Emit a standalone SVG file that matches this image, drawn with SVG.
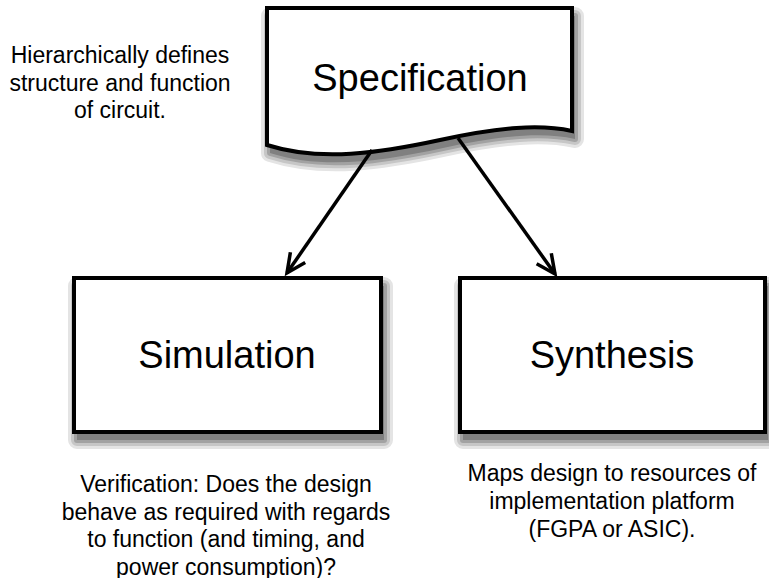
<svg xmlns="http://www.w3.org/2000/svg" width="769" height="578" viewBox="0 0 769 578">
  <style>
    .shape { fill: #ffffff; stroke: #000000; stroke-width: 4; stroke-linejoin: miter; }
    .title { font-family: "Liberation Sans", Arial, Helvetica, sans-serif; font-size: 38px; fill: #000000; text-anchor: middle; }
    .note { font-family: "Liberation Sans", Arial, Helvetica, sans-serif; font-size: 23px; fill: #000000; text-anchor: middle; }
    .conn { fill: none; stroke: #000000; stroke-width: 3.5; marker-end: url(#arrow); }
  </style>
  <defs>
    <marker id="arrow" markerUnits="userSpaceOnUse" viewBox="-22 -12 26 24" refX="0" refY="0" markerWidth="26" markerHeight="24" orient="auto">
      <path d="M-19,-9 L0,0 L-19,9" fill="none" stroke="#000000" stroke-width="3.5" stroke-linejoin="miter"/>
    </marker>
  </defs>

  <rect x="0" y="0" width="769" height="578" fill="#ffffff"/>

  <!-- drop shadows: stepped grey bands below and right of each shape -->
  <g id="shadows" stroke-linejoin="round">
    <rect x="77" y="286" width="307" height="154" fill="#e4e4e4" stroke="#e4e4e4" stroke-width="18"/>
    <rect x="77" y="286" width="307" height="154" fill="#c6c6c6" stroke="#c6c6c6" stroke-width="12"/>
    <rect x="77" y="286" width="307" height="154" fill="#a2a2a2" stroke="#a2a2a2" stroke-width="6"/>
    <rect x="77" y="286" width="307" height="154" fill="#808080"/>
    <rect x="463" y="286" width="305" height="154" fill="#e4e4e4" stroke="#e4e4e4" stroke-width="18"/>
    <rect x="463" y="286" width="305" height="154" fill="#c6c6c6" stroke="#c6c6c6" stroke-width="12"/>
    <rect x="463" y="286" width="305" height="154" fill="#a2a2a2" stroke="#a2a2a2" stroke-width="6"/>
    <rect x="463" y="286" width="305" height="154" fill="#808080"/>
    <path d="M270,16 H575 V139 C543,132 503,135 443,148 C383,161 323,170 270,153 Z" fill="#e4e4e4" stroke="#e4e4e4" stroke-width="18"/>
    <path d="M270,16 H575 V139 C543,132 503,135 443,148 C383,161 323,170 270,153 Z" fill="#c6c6c6" stroke="#c6c6c6" stroke-width="12"/>
    <path d="M270,16 H575 V139 C543,132 503,135 443,148 C383,161 323,170 270,153 Z" fill="#a2a2a2" stroke="#a2a2a2" stroke-width="6"/>
    <path d="M270,16 H575 V139 C543,132 503,135 443,148 C383,161 323,170 270,153 Z" fill="#808080"/>
  </g>

  <!-- Specification: document shape with wavy bottom -->
  <g id="specification">
    <path class="shape" d="M267,8 H572 V131 C540,124 500,127 440,140 C380,153 320,162 267,145 Z"/>
    <text class="title" x="420" y="91">Specification</text>
  </g>

  <g id="simulation">
    <rect class="shape" x="74" y="278" width="307" height="154"/>
    <text class="title" x="227" y="368">Simulation</text>
  </g>

  <g id="synthesis">
    <rect class="shape" x="460" y="278" width="305" height="154"/>
    <text class="title" x="612" y="368">Synthesis</text>
  </g>

  <g id="connectors">
    <line class="conn" x1="372" y1="150" x2="287" y2="273"/>
    <line class="conn" x1="458" y1="138" x2="555" y2="274"/>
  </g>

  <g id="spec-note">
    <text class="note" x="120" y="63">Hierarchically defines</text>
    <text class="note" x="120" y="90.5">structure and function</text>
    <text class="note" x="120" y="118">of circuit.</text>
  </g>

  <g id="simulation-note">
    <text class="note" x="226" y="492">Verification: Does the design</text>
    <text class="note" x="226" y="519.5">behave as required with regards</text>
    <text class="note" x="226" y="547">to function (and timing, and</text>
    <text class="note" x="226" y="574.5">power consumption)?</text>
  </g>

  <g id="synthesis-note">
    <text class="note" x="612" y="481">Maps design to resources of</text>
    <text class="note" x="612" y="509">implementation platform</text>
    <text class="note" x="612" y="537">(FGPA or ASIC).</text>
  </g>
</svg>
